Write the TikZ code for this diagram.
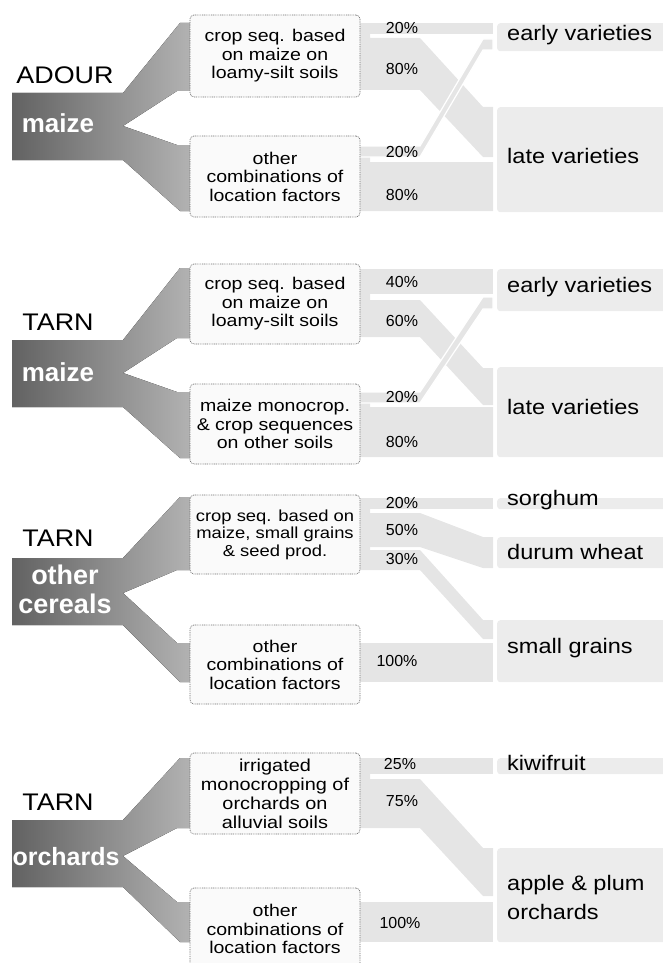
\documentclass[tikz,border=0pt]{standalone}
\usepackage{fontspec}
\setmainfont{Liberation Sans}
\newfontfamily\widesans[FakeStretch=1.15]{Liberation Sans}
\newfontfamily\halfwide[FakeStretch=1.12]{Liberation Sans}
\usetikzlibrary{positioning}
\definecolor{flowGray}{RGB}{229,229,229}
\definecolor{boxGray}{RGB}{236,236,236}
\definecolor{funnelDark}{RGB}{98,98,98}
\definecolor{funnelLight}{RGB}{180,180,180}
\definecolor{frameGray}{RGB}{110,110,110}
\definecolor{factorFill}{RGB}{250,250,250}

\tikzset{
  factor/.style={draw=frameGray, line width=0.7pt, dash pattern=on 0.9pt off 0.9pt,
    fill=factorFill, rounded corners=4pt, minimum width=170pt, inner sep=1pt,
    align=center, font=\widesans\fontsize{17}{18.5}\selectfont},
  outcome/.style={fill=boxGray, rounded corners=3pt, minimum width=175pt,
    inner sep=0pt, anchor=north west},
  outlabel/.style={anchor=west, align=left, inner xsep=0pt,
    font=\halfwide\fontsize{21}{29}\selectfont},
  pct/.style={font=\fontsize{16}{18}\selectfont},
  region/.style={font=\halfwide\fontsize{24}{30}\selectfont},
  crop/.style={text=white, align=center, font=\bfseries\fontsize{26}{29}\selectfont},
  funnel/.style={left color=funnelDark, right color=funnelLight},
  flow/.style={fill=flowGray},
  crossflow/.style={fill=flowGray, draw=white, line width=1.2pt},
}

\begin{document}
\begin{tikzpicture}[x=1pt, y=-1pt]
  \useasboundingbox (0,0) rectangle (662,963);

  % Embudos (top/notch/bottom/upper branch/lower branch)
  \foreach \t/\n/\b/\ua/\ub/\la/\lb in {93/126/160/23/91/145/211,
      340/373/407/268/338/392/458, 558/593/625/497/570/643/682,
      820/856/887/758/828/902/942} {
    \fill[funnel] (12,\t) -- (123,\t) -- (180,\ua) -- (195,\ua) -- (195,\ub)
      -- (177,\ub) -- (123,\n) -- (177,\la) -- (195,\la) -- (195,\lb)
      -- (180,\lb) -- (123,\b) -- (12,\b) -- cycle;
  }

  % Flujos ADOUR maize
  \fill[flow] (359,23) rectangle (493,34);
  \fill[flow] (359,34) -- (370,34) -- (370,38) -- (420,38) -- (483,107) -- (493,107)
    -- (493,157) -- (483,157) -- (420,90) -- (359,90) -- cycle;
  \fill[flow] (359,157) -- (370,157) -- (370,162) -- (493,162) -- (493,211) -- (359,211) -- cycle;
  \filldraw[crossflow] (359,146) -- (420,146) -- (483,39) -- (493,39) -- (493,50)
    -- (483,50) -- (420,157) -- (359,157) -- cycle;

  % Flujos TARN maize
  \fill[flow] (359,269) rectangle (493,294);
  \fill[flow] (359,294) -- (370,294) -- (370,300) -- (420,300) -- (483,368) -- (493,368)
    -- (493,405) -- (483,405) -- (420,337) -- (359,337) -- cycle;
  \fill[flow] (359,403) -- (370,403) -- (370,407) -- (493,407) -- (493,457) -- (359,457) -- cycle;
  \filldraw[crossflow] (359,392) -- (420,392) -- (483,297) -- (493,297) -- (493,309)
    -- (483,309) -- (420,403) -- (359,403) -- cycle;

  % Flujos TARN other cereals
  \fill[flow] (359,498) rectangle (493,509);
  \fill[flow] (359,509) -- (370,509) -- (370,513) -- (420,513) -- (483,537) -- (493,537)
    -- (493,568) -- (483,568) -- (420,547) -- (359,547) -- cycle;
  \fill[flow] (359,547) -- (370,547) -- (370,550) -- (420,550) -- (483,620) -- (493,620)
    -- (493,639) -- (483,639) -- (420,570) -- (359,570) -- cycle;
  \fill[flow] (359,643) rectangle (493,682);

  % Flujos TARN orchards
  \fill[flow] (359,758) rectangle (493,774);
  \fill[flow] (359,774) -- (370,774) -- (370,779) -- (420,779) -- (483,848) -- (493,848)
    -- (493,896) -- (483,896) -- (420,828) -- (359,828) -- cycle;
  \fill[flow] (359,902) rectangle (493,942);

  % Factores de localizacion
  \node[factor, minimum height=82pt] (adUp) at (275,56) {crop seq. based\\on maize on\\loamy-silt soils};
  \node[factor, minimum height=81pt] (adLow) at (275,176.5) {other\\combinations of\\location factors};
  \node[factor, minimum height=80pt] (tmUp) at (275,304) {crop seq. based\\on maize on\\loamy-silt soils};
  \node[factor, minimum height=80pt] (tmLow) at (275,424) {maize monocrop.\\\& crop sequences\\on other soils};
  \node[factor, minimum height=79pt, font=\widesans\fontsize{16}{17.5}\selectfont] (tcUp) at (275,534.5) {crop seq. based on\\maize, small grains\\\& seed prod.};
  \node[factor, minimum height=79pt] (tcLow) at (275,664.5) {other\\combinations of\\location factors};
  \node[factor, minimum height=81pt, font=\widesans\fontsize{17.3}{19}\selectfont] (toUp) at (275,793.5) {irrigated\\monocropping of\\orchards on\\alluvial soils};
  \node[factor, minimum height=82pt] (toLow) at (275,929) {other\\combinations of\\location factors};

  % Destinos
  \node[outcome, minimum height=28pt] (adEarly) at (497,23) {};
  \node[outcome, minimum height=105pt] (adLate) at (497,107) {};
  \node[outcome, minimum height=42pt] (tmEarly) at (497,269) {};
  \node[outcome, minimum height=90pt] (tmLate) at (497,367) {};
  \node[outcome, minimum height=11pt] (tcSorghum) at (497,498) {};
  \node[outcome, minimum height=31pt] (tcDurum) at (497,537) {};
  \node[outcome, minimum height=62pt] (tcSmall) at (497,620) {};
  \node[outcome, minimum height=16pt] (toKiwi) at (497,758) {};
  \node[outcome, minimum height=94pt] (toApple) at (497,848) {};

  \node[outlabel] at (507,35) {early varieties};
  \node[outlabel] at (507,156) {late varieties};
  \node[outlabel] at (507,287) {early varieties};
  \node[outlabel] at (507,407) {late varieties};
  \node[outlabel] at (507,500) {sorghum};
  \node[outlabel] at (507,552) {durum wheat};
  \node[outlabel] at (507,648) {small grains};
  \node[outlabel] at (507,763) {kiwifruit};
  \node[outlabel] at (507,897) {apple \& plum\\orchards};

  % Porcentajes
  \foreach \x/\y/\p in {402/28/20, 402/69/80, 402/152/20, 402/195/80,
      402/282/40, 402/321/60, 402/397/20, 402/442/80,
      402/503/20, 402/530/50, 402/559/30, 397/661/100,
      400/764/25, 402/801/75, 400/923/100} {
    \node[pct] at (\x,\y) {\p\%};
  }

  % Regiones y cultivos
  \node[region] (adour) at (65,75) {ADOUR};
  \node[region] (tarnA) at (58,322) {TARN};
  \node[region] (tarnB) at (58,538) {TARN};
  \node[region] (tarnC) at (58,802) {TARN};
  \node[crop] (maizeA) at (58,123) {maize};
  \node[crop] (maizeB) at (58,372) {maize};
  \node[crop, font=\bfseries\fontsize{27}{29}\selectfont] (cereals) at (65,589.5) {other\\cereals};
  \node[crop, font=\bfseries\fontsize{25}{28}\selectfont] (orchards) at (66,857) {orchards};
\end{tikzpicture}
\end{document}
